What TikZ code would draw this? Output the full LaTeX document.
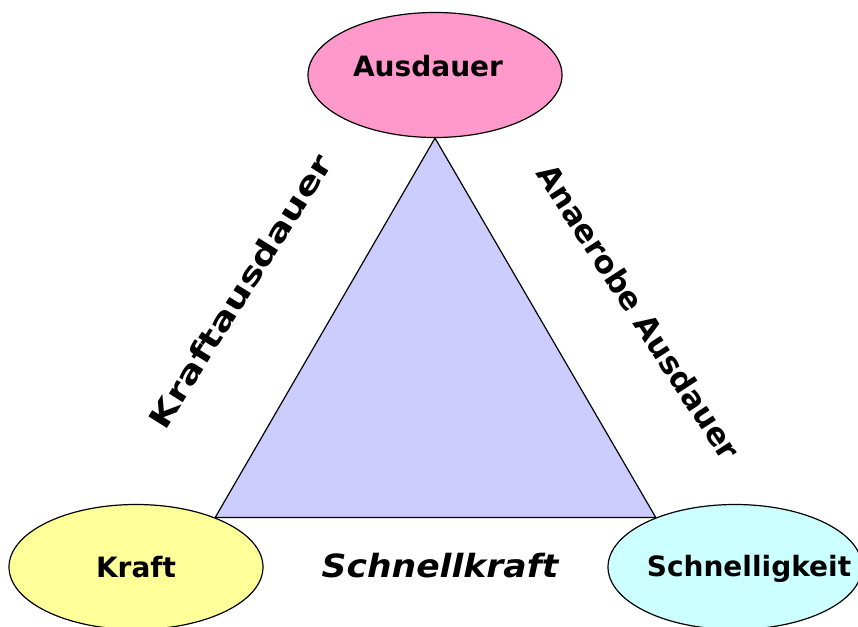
\documentclass[tikz,border=0pt]{standalone}
\usepackage{fontspec}
\setmainfont{DejaVu Sans}
\usetikzlibrary{shapes.geometric, backgrounds}

\definecolor{ausdauerpink}{HTML}{FF99CC}
\definecolor{kraftyellow}{HTML}{FFFF99}
\definecolor{schnellcyan}{HTML}{CCFFFF}
\definecolor{trianglelilac}{HTML}{CCCCFF}

\begin{document}
\begin{tikzpicture}[x=1pt, y=-1pt, line width=1.2pt,
    corner/.style={ellipse, draw, line width=1.2pt, minimum width=254pt, minimum height=125pt,
      inner sep=0pt, font=\fontsize{28}{30}\selectfont\bfseries},
    cornertext/.style={font=\fontsize{28}{30}\selectfont\bfseries, inner sep=0pt},
    side/.style={font=\fontsize{30}{32}\selectfont\bfseries, inner sep=0pt}]
  \useasboundingbox (0,0) rectangle (858,626);

  \node[corner, fill=ausdauerpink] (aus) at (435,75) {};
  \node[cornertext] (austext) at (428,66) {Ausdauer};
  \node[corner, fill=kraftyellow] (kraft) at (136,567) {Kraft};
  \node[corner, fill=schnellcyan] (schnell) at (735,567) {};
  \node[cornertext] (schnelltext) at (749,569) {Schnelligkeit};

  \begin{pgfonlayer}{background}
    \draw[line width=1.2pt, fill=trianglelilac] (aus.south) -- (kraft.32) -- (schnell.148) -- cycle;
  \end{pgfonlayer}

  % Seitenbeschriftungen
  \node[side, rotate=58] (kraftaus) at (240,291) {\scalebox{1.3}[1]{Kraftausdauer}};
  \node[side, rotate=-57, font=\fontsize{31}{33}\selectfont\bfseries] (anaerob) at (639,312)
    {Anaerobe Ausdauer};
  \node[side, font=\fontsize{32}{34}\selectfont\bfseries\itshape] (schnellkraft) at (440,566)
    {\scalebox{1.08}[1]{Schnellkraft}};
\end{tikzpicture}
\end{document}
